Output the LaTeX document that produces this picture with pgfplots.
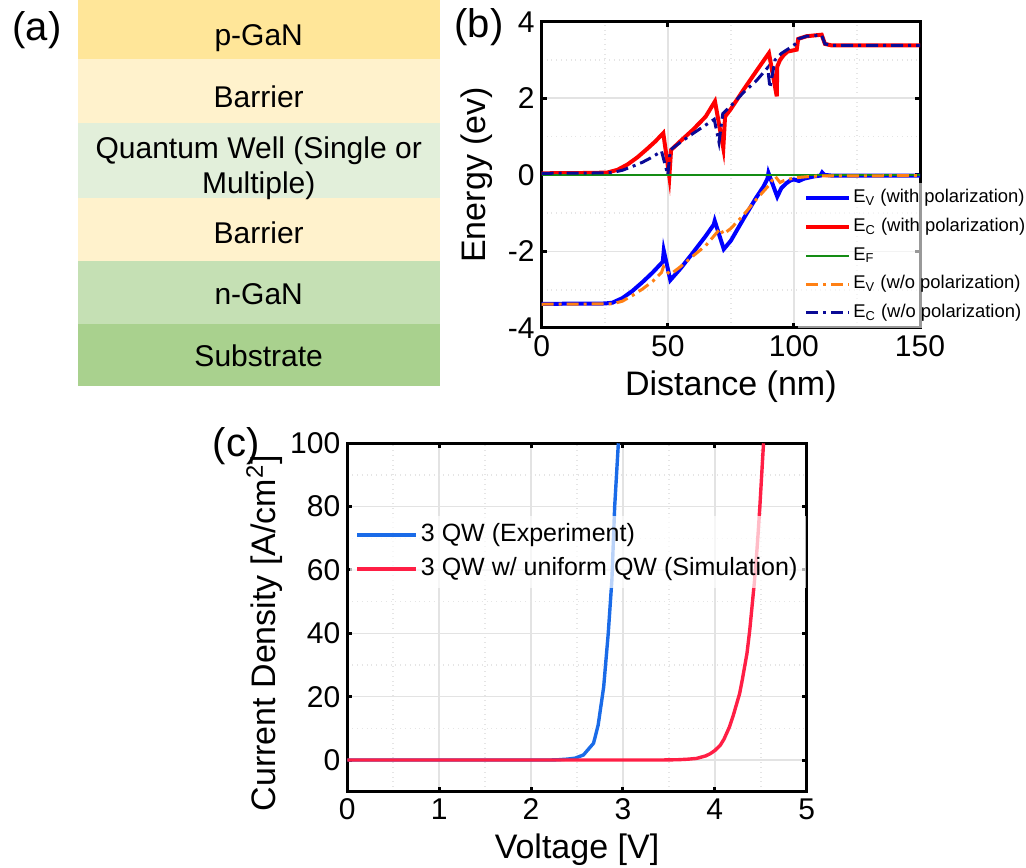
\documentclass[border=0pt]{standalone}
\usepackage{fontspec}
\setmainfont{Liberation Sans}
\usepackage{pgfplots}
\pgfplotsset{compat=1.18}

\definecolor{pgan}{HTML}{FFE699}
\definecolor{barr}{HTML}{FFF2CC}
\definecolor{qwc}{HTML}{E2EFDA}
\definecolor{ngan}{HTML}{C5E0B4}
\definecolor{subs}{HTML}{A9D18E}
\definecolor{evblue}{RGB}{0,0,255}
\definecolor{ecred}{RGB}{255,0,0}
\definecolor{efgreen}{RGB}{20,140,20}
\definecolor{evorange}{RGB}{255,128,20}
\definecolor{ecnavy}{RGB}{10,10,150}
\definecolor{expblue}{RGB}{26,107,232}
\definecolor{simred}{RGB}{255,31,69}

\pgfplotsset{
  mystyle/.style={
    scale only axis,
    axis line style={line width=1.5pt},
    tick style={line width=1.5pt, black},
    major tick length=2.5pt,
    minor tick length=0pt,
    tick align=inside,
    grid=both,
    major grid style={gray!22, line width=0.8pt},
    minor grid style={gray!20, dotted, line width=0.8pt},
    ticklabel style={font=\fontsize{15}{15}\selectfont},
    /pgf/number format/assume math mode=true,
    label style={font=\fontsize{17}{17}\selectfont},
    legend cell align=left,
  },
  dashdot/.style={dash pattern=on 6pt off 2.5pt on 1.5pt off 2.5pt},
}

\begin{document}
\begin{tikzpicture}
\path[use as bounding box] (0,0) rectangle (513pt,433.5pt);

% ---------------- panel (a): layer stack ----------------
\begin{axis}[at={(38.85pt,240.65pt)}, anchor=south west, scale only axis,
  width=181.15pt, height=190.35pt, hide axis, clip=false,
  xmin=0, xmax=362.3, ymin=0, ymax=380.7]
\fill[pgan] (axis cs:0,320) rectangle (axis cs:362.3,380.7);
\fill[barr] (axis cs:0,258) rectangle (axis cs:362.3,320);
\fill[qwc]  (axis cs:0,183.7) rectangle (axis cs:362.3,258);
\fill[barr] (axis cs:0,122.7) rectangle (axis cs:362.3,183.7);
\fill[ngan] (axis cs:0,60.7) rectangle (axis cs:362.3,122.7);
\fill[subs] (axis cs:0,0) rectangle (axis cs:362.3,60.7);
\tikzset{lay/.style={font=\fontsize{15}{17.5}\selectfont, anchor=base, inner sep=0pt}}
\node[lay] at (axis cs:181,333.5) {p-GaN};
\node[lay] at (axis cs:181,273) {Barrier};
\node[lay] at (axis cs:181,223) {Quantum Well (Single or};
\node[lay] at (axis cs:181,188) {Multiple)};
\node[lay] at (axis cs:181,139.5) {Barrier};
\node[lay] at (axis cs:181,80) {n-GaN};
\node[lay] at (axis cs:181,19.0) {Substrate};
\end{axis}

% ---------------- panel (b): band diagram ----------------
\begin{axis}[mystyle, at={(270.85pt,269.5pt)}, anchor=south west,
  width=189.15pt, height=153.15pt,
  xmin=0, xmax=150, ymin=-4, ymax=4,
  xtick={0,50,100,150}, ytick={-4,-2,0,2,4},
  minor x tick num=1, minor y tick num=1,
  xlabel={Distance (nm)}, ylabel={Energy (ev)},
  xlabel style={at={(rel axis cs:0.5,-0.1371)}, anchor=north, inner sep=0pt},
  ylabel style={at={(rel axis cs:-0.1287,0.5)}, anchor=south, inner sep=0pt},
  legend image code/.code={\draw[#1] (0pt,0pt) -- (21.5pt,0pt);},
  legend style={at={(0.6775,0.475)}, anchor=north west, draw=none,
    fill=white, fill opacity=0.6, text opacity=1,
    font=\fontsize{9.2}{9.2}\selectfont,
    nodes={text height=7pt, text depth=2.5pt, inner sep=1pt}, row sep=2.8pt},
]
\addplot[evblue, line width=2pt] coordinates {
(0,-3.37) (25,-3.36) (28,-3.34) (32,-3.22) (36,-3.03) (40,-2.8) (44,-2.55)
(48,-2.27) (48.4,-1.98) (51,-2.75) (55,-2.45) (60,-2.03) (65,-1.6) (68.2,-1.3)
(68.6,-1.2) (72.2,-1.94) (75,-1.72) (80,-1.15) (85,-0.6) (88,-0.3) (89.5,-0.1)
(89.9,0.05) (93.4,-0.57) (95,-0.35) (97,-0.22) (98.5,-0.15) (100,-0.12)
(102,-0.16) (104,-0.1) (108,-0.04) (110.5,-0.02) (111.2,0.06) (112,0.0)
(115,-0.02) (150,-0.02)};
\addlegendentry{E\textsubscript{V} (with polarization)}
\addplot[ecred, line width=2pt] coordinates {
(0,0.04) (20,0.05) (26,0.06) (30,0.13) (34,0.27) (38,0.46) (42,0.69) (45,0.87)
(48.2,1.09) (50.6,-0.04) (51.3,0.65) (55,0.88) (60,1.18) (65,1.52)
(68.7,1.92) (72,0.70) (72.7,1.52) (75,1.72) (80,2.22) (85,2.7) (90.1,3.18)
(93.2,2.05) (93.4,2.83) (94.5,3.0) (96,3.13) (97.5,3.22) (101.1,3.27)
(101.7,3.55) (105,3.62) (111,3.66) (112.3,3.42) (115,3.38) (150,3.38)};
\addlegendentry{E\textsubscript{C} (with polarization)}
\addplot[efgreen, line width=1pt] coordinates {(0,0) (150,0)};
\addlegendentry{E\textsubscript{F}}
\addplot[evorange, line width=1.5pt, dashdot] coordinates {
(0,-3.38) (28,-3.37) (32,-3.3) (36,-3.15) (40,-2.98) (44,-2.78) (47.5,-2.55)
(48.3,-2.4) (50,-2.55) (51,-2.6) (55,-2.4) (60,-2.12) (65,-1.85) (68,-1.62)
(70.8,-1.4) (72,-1.55) (75,-1.4) (80,-1.05) (85,-0.65) (90,-0.28)
(92.5,-0.03) (94.5,-0.2) (96,-0.15) (100,-0.08) (105,-0.05) (110,-0.03)
(150,-0.02)};
\addlegendentry{E\textsubscript{V} (w/o polarization)}
\addplot[ecnavy, line width=1.5pt, dashdot] coordinates {
(0,0.04) (25,0.05) (28,0.06) (32,0.12) (36,0.22) (40,0.33) (44,0.47)
(47.5,0.62) (50,0.0) (51,0.65) (55,0.85) (60,1.08) (65,1.3) (68.4,1.45)
(70.3,0.85) (71.8,1.6) (75,1.8) (80,2.15) (85,2.45) (89.6,2.8) (90.5,2.27)
(92.5,3.0) (95,3.17) (98,3.3) (101.3,3.45) (101.8,3.55) (105,3.62)
(111,3.65) (112.3,3.42) (115,3.38) (150,3.38)};
\addlegendentry{E\textsubscript{C} (w/o polarization)}
\end{axis}

% ---------------- panel (c): J-V ----------------
\begin{axis}[mystyle, at={(173.65pt,37.65pt)}, anchor=south west,
  width=229.7pt, height=174.2pt,
  xmin=0, xmax=5, ymin=-10, ymax=100,
  xtick={0,1,2,3,4,5}, ytick={0,20,40,60,80,100},
  minor x tick num=1, minor y tick num=1,
  xlabel={Voltage [V]}, ylabel={Current Density [A/cm\textsuperscript{2}]},
  xlabel style={at={(rel axis cs:0.5,-0.1185)}, anchor=north, inner sep=0pt},
  ylabel style={at={(rel axis cs:-0.14,0.455)}, anchor=south, inner sep=0pt},
  legend image code/.code={\draw[#1] (0pt,0pt) -- (29.5pt,0pt);},
  legend style={at={(0.004,0.792)}, anchor=north west, draw=none,
    fill=white, fill opacity=0.7, text opacity=1,
    font=\fontsize{12.5}{12.5}\selectfont,
    nodes={text height=9pt, text depth=3pt, inner sep=1.5pt}, row sep=2pt},
]
\addplot[expblue, line width=1.7pt] coordinates {
(0,0) (2.2,0) (2.3,0.1) (2.4,0.3) (2.48,0.6) (2.57,1.6) (2.68,5.3) (2.73,11)
(2.79,23) (2.84,40) (2.88,57) (2.91,80) (2.95,100)};
\addlegendentry{3 QW (Experiment)}
\addplot[simred, line width=1.7pt] coordinates {
(0,0) (3.4,0) (3.6,0.1) (3.7,0.25) (3.8,0.5) (3.9,1.3) (3.95,2.0) (4.0,3.0)
(4.06,4.7) (4.1,6.6) (4.16,10.5) (4.2,14) (4.27,21) (4.3,25.5) (4.35,33.7)
(4.38,41) (4.40,47) (4.43,56) (4.45,63) (4.47,71) (4.49,80) (4.51,90) (4.53,100)};
\addlegendentry{3 QW w/ uniform QW (Simulation)}
\end{axis}

% panel labels
\node[font=\fontsize{20}{20}\selectfont, inner sep=0pt] at (18.5pt,418.5pt) {(a)};
\node[font=\fontsize{20}{20}\selectfont, inner sep=0pt] at (239.5pt,420pt) {(b)};
\node[font=\fontsize{20}{20}\selectfont, inner sep=0pt] at (118pt,210.5pt) {(c)};
\end{tikzpicture}
\end{document}
